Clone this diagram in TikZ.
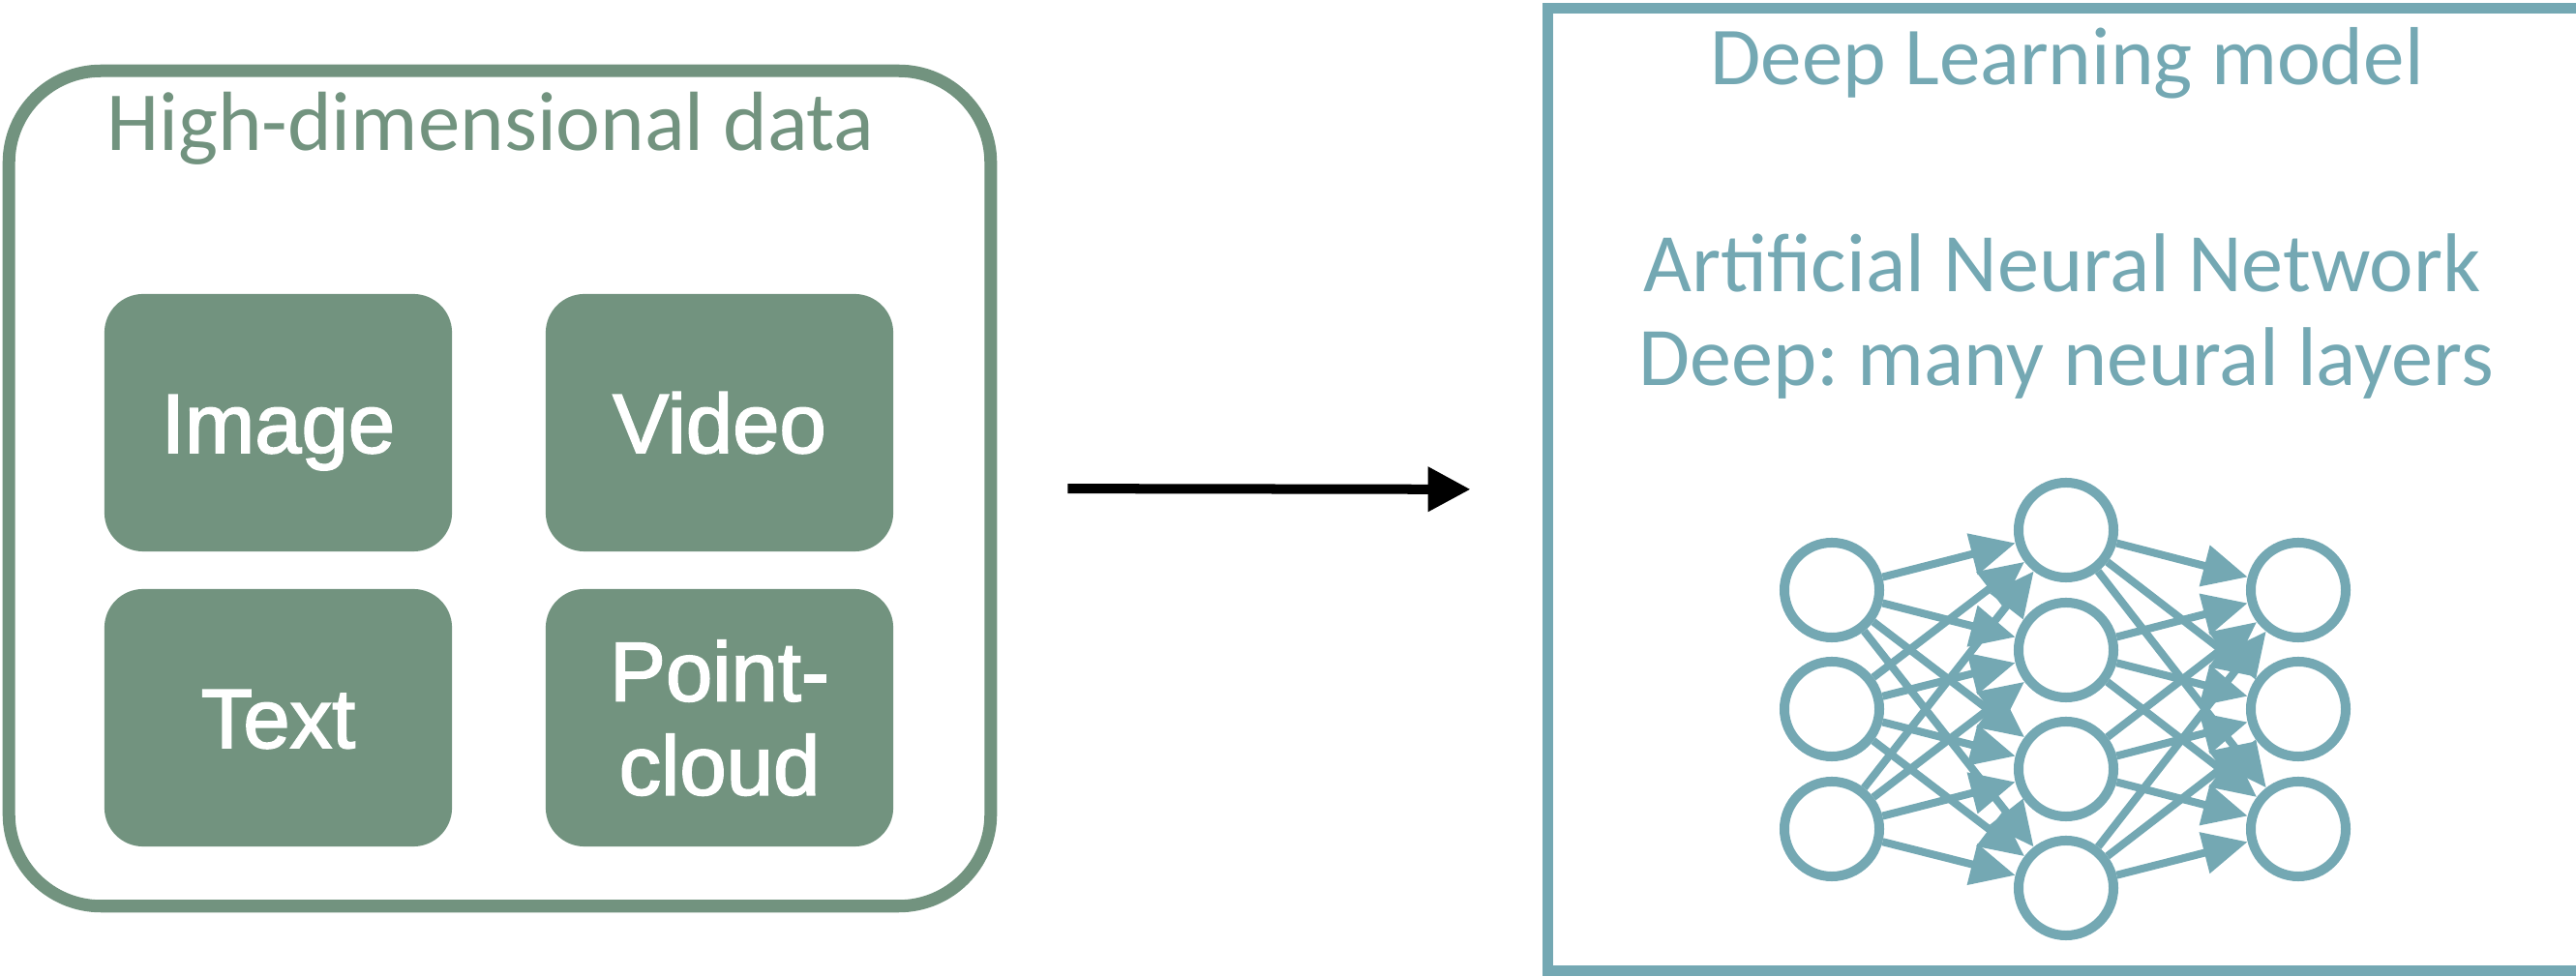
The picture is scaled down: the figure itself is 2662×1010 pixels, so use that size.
\documentclass[tikz,border=0pt]{standalone}
\usepackage{fontspec}
\setmainfont{Carlito}
\newfontfamily\boxfont[FakeBold=2]{Liberation Sans}
\usetikzlibrary{arrows.meta}
\definecolor{sage}{HTML}{72937F}
\definecolor{dlteal}{HTML}{74A8B3}
\frenchspacing

\begin{document}
\begin{tikzpicture}
[x=0.01cm,y=-0.01cm,
data box/.style={draw=sage,line width=0.13cm,rounded corners=0.95cm,minimum width=10.14cm,minimum height=8.63cm,inner sep=0},
kind box/.style={fill=sage,rounded corners=0.4cm,minimum width=3.59cm,minimum height=2.66cm,inner sep=0,text=white,align=center,
  font=\boxfont\fontsize{24.7pt}{27.6pt}\selectfont,text height=17.7pt,text depth=0pt},
head/.style={anchor=base,font=\fontsize{24.2pt}{28pt}\selectfont},
neuron/.style={circle,draw=dlteal,line width=0.1cm,minimum size=0.98cm,inner sep=0},
link/.style={color=dlteal,line width=0.08cm,-{Triangle[length=0.46cm,width=0.42cm]}}]
\useasboundingbox (0,0) rectangle (2662,1010);

% input side
\node[data box] (data) at (516.5,505) {};
\node[head,text=sage,font=\fontsize{24.7pt}{28pt}\selectfont] (datatitle) at (507,156) {High-dimensional data};
\node[kind box] (image) at (287.5,437) {Image};
\node[kind box] (video) at (743.5,437) {Video};
\node[kind box] (text) at (287.5,742) {Text};
\node[kind box,text height=45.3pt] (cloud) at (743.5,742) {Point-\\cloud};

% model side
\node[draw=dlteal,line width=0.11cm,minimum width=11.31cm,minimum height=9.95cm] (model) at (2165,506) {};
\node[head,text=dlteal] (modeltitle) at (2136,88) {Deep Learning model};
\node[head,text=dlteal,font=\fontsize{24.5pt}{28pt}\selectfont] (ann) at (2131,302) {Artificial Neural Network};
\node[head,text=dlteal,font=\fontsize{24.5pt}{28pt}\selectfont] (deep) at (2135,399) {Deep: many neural layers};

\draw[line width=0.1cm,-{Triangle[length=0.44cm,width=0.44cm]},shorten <=0.73cm,shorten >=0.74cm] (data.east) -- (model.west);

% network
\node[neuron] (i1) at (1893,610) {};
\node[neuron] (i2) at (1893,733) {};
\node[neuron] (i3) at (1893,857) {};
\node[neuron] (h1) at (2135,548) {};
\node[neuron] (h2) at (2135,672) {};
\node[neuron] (h3) at (2135,795) {};
\node[neuron] (h4) at (2135,918) {};
\node[neuron] (o1) at (2375,610) {};
\node[neuron] (o2) at (2375,733) {};
\node[neuron] (o3) at (2375,857) {};
\path[link]
(i1) edge (h1) edge (h2) edge (h3) edge (h4)
(i2) edge (h1) edge (h2) edge (h3) edge (h4)
(i3) edge (h1) edge (h2) edge (h3) edge (h4)
(h1) edge (o1) edge (o2) edge (o3)
(h2) edge (o1) edge (o2) edge (o3)
(h3) edge (o1) edge (o2) edge (o3)
(h4) edge (o1) edge (o2) edge (o3);
\end{tikzpicture}
\end{document}
